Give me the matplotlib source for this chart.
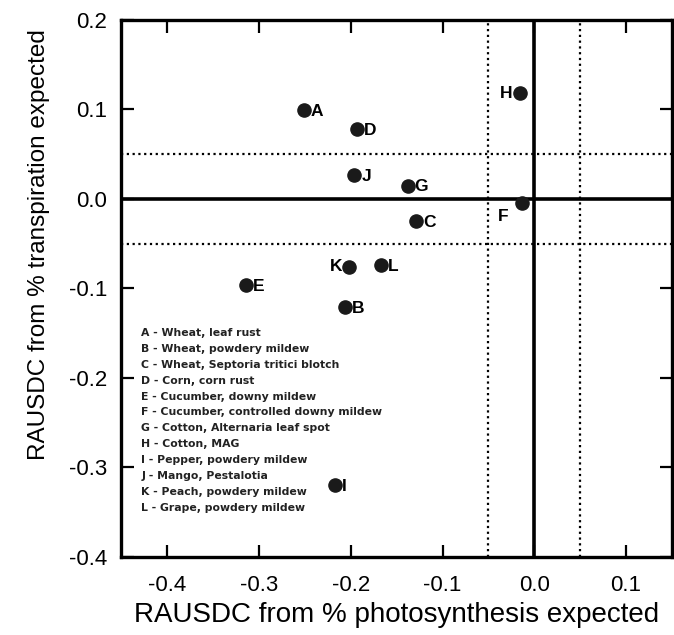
import matplotlib
matplotlib.use("Agg")
import matplotlib.pyplot as plt

# RAUSDC values
labels = ["A", "B", "C", "D", "E", "F", "G", "H", "I", "J", "K", "L"]
x_photo = [-0.251, -0.206, -0.129, -0.193, -0.314, -0.013, -0.138, -0.016,
           -0.217, -0.196, -0.202, -0.167]
y_transp = [0.099, -0.121, -0.025, 0.078, -0.096, -0.004, 0.015, 0.118,
            -0.320, 0.027, -0.076, -0.074]
descriptions = [
    "Wheat, leaf rust",
    "Wheat, powdery mildew",
    "Wheat, Septoria tritici blotch",
    "Corn, corn rust",
    "Cucumber, downy mildew",
    "Cucumber, controlled downy mildew",
    "Cotton, Alternaria leaf spot",
    "Cotton, MAG",
    "Pepper, powdery mildew",
    "Mango, Pestalotia",
    "Peach, powdery mildew",
    "Grape, powdery mildew",
]
x_ticks = [-0.4, -0.3, -0.2, -0.1, 0.0, 0.1]
y_ticks = [0.2, 0.1, 0.0, -0.1, -0.2, -0.3, -0.4]
threshold = 0.05

# which labels sit on the left of their dot
left_labels = {"H", "K"}

plt.rcParams["font.family"] = ["Liberation Sans", "DejaVu Sans"]

fig = plt.figure(figsize=(6.74, 6.35), dpi=100)
ax = fig.add_axes([0.18, 0.123, 0.817, 0.8455])

ax.set_xlim(-0.45, 0.15)
ax.set_ylim(-0.4, 0.2)

# threshold band and zero lines
for v in (-threshold, threshold):
    ax.axvline(v, color="black", lw=1.6, ls=(0, (1, 1.6)), zorder=1)
    ax.axhline(v, color="black", lw=1.6, ls=(0, (1, 1.6)), zorder=1)
ax.axhline(0, color="black", lw=2.6, zorder=2)
ax.axvline(0, color="black", lw=2.6, zorder=3)

ax.scatter(x_photo, y_transp, s=90, color="#1a1a1a", zorder=2.5)

for lab, x, y in zip(labels, x_photo, y_transp):
    if lab == "F":
        ax.annotate(lab, (x, y), xytext=(-18, -10), textcoords="offset points",
                    fontsize=12.5, fontweight="bold", va="center", ha="left")
    elif lab in left_labels:
        ax.annotate(lab, (x, y), xytext=(-5, 0), textcoords="offset points",
                    fontsize=12.5, fontweight="bold", va="center", ha="right")
    else:
        ax.annotate(lab, (x, y), xytext=(5, -1), textcoords="offset points",
                    fontsize=12.5, fontweight="bold", va="center", ha="left")

# key, one line per entry
key_top = 0.417
key_step = 0.0296
for i, (l, d) in enumerate(zip(labels, descriptions)):
    ax.text(0.036, key_top - i * key_step, f"{l} - {d}",
            transform=ax.transAxes, fontsize=7.8, family="DejaVu Sans",
            fontweight="bold", va="center", ha="left", color="#222222")

ax.set_xticks(x_ticks)
ax.set_yticks(y_ticks)
ax.set_xticklabels([f"{t:.1f}".replace("-0.0", "0.0") for t in x_ticks])
ax.set_yticklabels([f"{t:.1f}".replace("-0.0", "0.0") for t in y_ticks])
ax.tick_params(direction="in", length=9, width=1.6, labelsize=16,
               top=True, right=True, pad=10)
ax.tick_params(axis="x", pad=13)

for sp in ax.spines.values():
    sp.set_linewidth(2.4)

ax.set_xlabel("RAUSDC from % photosynthesis expected", fontsize=20,
              labelpad=4)
ax.set_ylabel("RAUSDC from % transpiration expected", fontsize=17.5)
ax.yaxis.set_label_coords(-0.13, 0.581)

fig.savefig("out.png", dpi=100)
